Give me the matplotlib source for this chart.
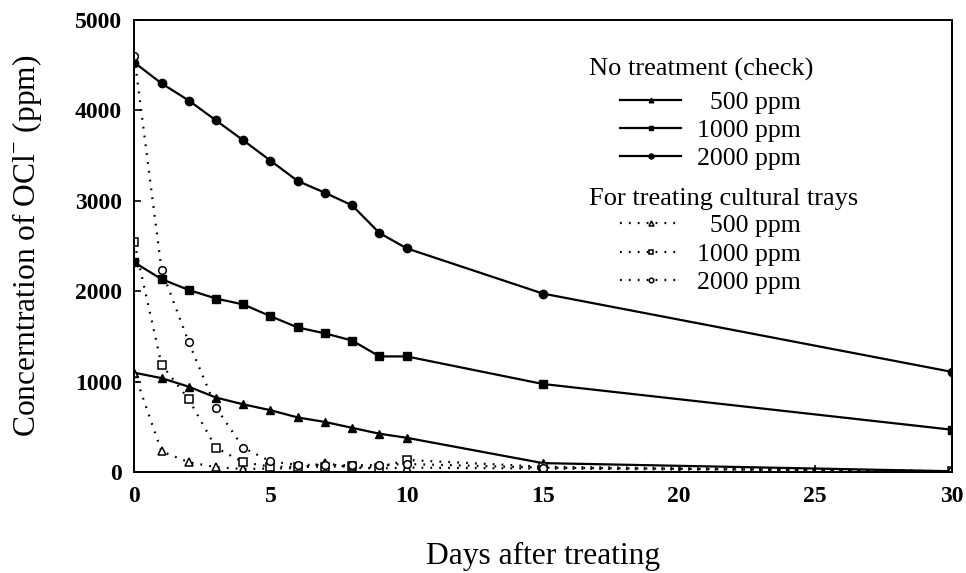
import matplotlib
matplotlib.use("Agg")
import matplotlib.pyplot as plt

plt.rcParams['font.family'] = ['Liberation Serif', 'DejaVu Serif']
plt.rcParams['mathtext.fontset'] = 'custom'
plt.rcParams['mathtext.rm'] = 'Liberation Serif'

days = [0, 1, 2, 3, 4, 5, 6, 7, 8, 9, 10, 15, 30]

# no treatment (check)
check_500 = [1100, 1040, 945, 825, 750, 685, 605, 555, 490, 425, 380, 100, 10]
check_1000 = [2320, 2135, 2015, 1920, 1855, 1725, 1600, 1535, 1455, 1280, 1280, 975, 470]
check_2000 = [4530, 4300, 4110, 3890, 3670, 3445, 3220, 3090, 2950, 2645, 2475, 1975, 1110]

# for treating cultural trays
tray_500 = [1100, 230, 110, 55, 35, 40, 45, 100, 50, 40, 50, 40, 10]
tray_1000 = [2540, 1190, 805, 270, 110, 60, 60, 60, 65, 50, 135, 60, 10]
tray_2000 = [4600, 2240, 1435, 715, 270, 120, 80, 80, 75, 80, 90, 50, 10]

legend_labels = ["  500 ppm", "1000 ppm", "2000 ppm"]


def main():
    fig = plt.figure(figsize=(9.66, 5.73), dpi=100)
    ax = fig.add_axes([0.139, 0.176, 0.846, 0.789])

    solid = dict(color='black', lw=1.6, linestyle='-')
    dotted = dict(color='black', lw=1.6, linestyle=(0, (0.8, 3.2)))

    h1 = ax.plot(days, check_500, marker='^', ms=5.5, **solid)[0]
    h2 = ax.plot(days, check_1000, marker='s', ms=5.5, **solid)[0]
    h3 = ax.plot(days, check_2000, marker='o', ms=6, **solid)[0]
    h4 = ax.plot(days, tray_500, marker='^', ms=6, mfc='white', mew=1.1, **dotted)[0]
    h5 = ax.plot(days, tray_1000, marker='s', ms=5.5, mfc='white', mew=1.1, **dotted)[0]
    h6 = ax.plot(days, tray_2000, marker='o', ms=5.5, mfc='white', mew=1.1, **dotted)[0]

    ax.set_xlim(0, 30)
    ax.set_ylim(0, 5000)
    ax.set_xticks([0, 5, 10, 15, 20, 25, 30])
    ax.set_yticks([0, 1000, 2000, 3000, 4000, 5000])
    ax.tick_params(direction='in', length=5, width=1.2, labelsize=17)
    ax.tick_params(axis='x', pad=10)
    ax.tick_params(axis='y', pad=9)
    for lab in ax.get_xticklabels() + ax.get_yticklabels():
        lab.set_fontweight('bold')
    for s in ax.spines.values():
        s.set_linewidth(1.4)

    ax.set_xlabel("Days after treating", fontsize=22.7)
    ax.xaxis.set_label_coords(0.5, -0.154)
    ax.set_ylabel("Concerntration of OCl$^{-}$ (ppm)", fontsize=22.7)
    ax.yaxis.set_label_coords(-0.110, 0.5)

    ax.text(0.557, 0.878, "No treatment (check)", transform=ax.transAxes,
            fontsize=19, va='baseline')
    ax.text(0.557, 0.591, "For treating cultural trays", transform=ax.transAxes,
            fontsize=19, va='baseline')

    leg_kw = dict(loc='upper left', frameon=False, fontsize=18.5,
                  handlelength=2.4, handletextpad=0.6, labelspacing=0.2,
                  markerscale=0.6, borderpad=0, borderaxespad=0)
    leg1 = ax.legend([h1, h2, h3], legend_labels, bbox_to_anchor=(0.594, 0.844), **leg_kw)
    ax.add_artist(leg1)
    ax.legend([h4, h5, h6], legend_labels, bbox_to_anchor=(0.594, 0.570), **leg_kw)

    fig.savefig("out.png", dpi=100)


if __name__ == "__main__":
    main()
